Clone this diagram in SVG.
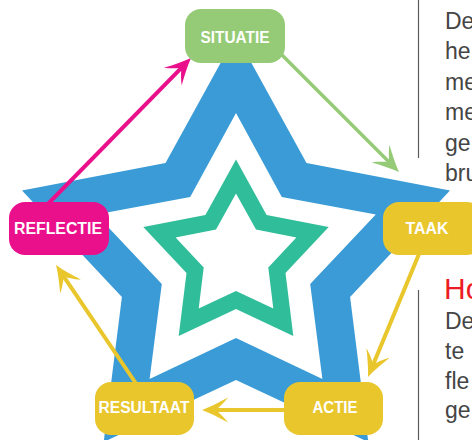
<svg xmlns="http://www.w3.org/2000/svg" width="472" height="440" viewBox="0 0 472 440">
  <style>
    .box-label { font-family: "Liberation Sans", Arial, sans-serif; font-weight: bold; font-size: 17.2px; fill: #ffffff; text-anchor: middle; }
    .body { font-family: "Liberation Sans", Arial, sans-serif; font-size: 23px; fill: #454545; }
    .heading { font-family: "Liberation Sans", Arial, sans-serif; font-size: 30px; fill: #ed1c24; }
    .rule { stroke: #5a5a5a; stroke-width: 1.2; }
    .conn { fill: none; stroke-linecap: butt; }
  </style>
  <defs>
    <!-- swept arrowheads: origin sits at the line end, tip 13px further on -->
    <marker id="ah-green" markerUnits="userSpaceOnUse" viewBox="-15 -15 30 30" markerWidth="30" markerHeight="30" refX="0" refY="0" orient="auto">
      <path d="M13,0 C5,-3 -3,-7 -13,-12.5 C-8,-6 -4,-3 -1,0 C-4,3 -8,6 -13,12.5 C-3,7 5,3 13,0 Z" fill="#95cb76"/>
    </marker>
    <marker id="ah-pink" markerUnits="userSpaceOnUse" viewBox="-15 -15 30 30" markerWidth="30" markerHeight="30" refX="0" refY="0" orient="auto">
      <path d="M13,0 C5,-3 -3,-7 -13,-12.5 C-8,-6 -4,-3 -1,0 C-4,3 -8,6 -13,12.5 C-3,7 5,3 13,0 Z" fill="#ea108c"/>
    </marker>
    <marker id="ah-yellow" markerUnits="userSpaceOnUse" viewBox="-15 -15 30 30" markerWidth="30" markerHeight="30" refX="0" refY="0" orient="auto">
      <path d="M13,0 C5,-3 -3,-7 -13,-12.5 C-8,-6 -4,-3 -1,0 C-4,3 -8,6 -13,12.5 C-3,7 5,3 13,0 Z" fill="#e8c62c"/>
    </marker>
  </defs>

  <!-- large blue star band (outer star minus inner star) -->
  <path id="star-blue" fill="#3a9bd6" fill-rule="evenodd"
        d="M236,35 L306.5,162.9 L450,190.5 L350.1,297.1 L368.3,442 L236,380 L103.7,442 L121.9,297.1 L22,190.5 L165.5,162.9 Z
           M236,113 L281.8,196.9 L375.8,214.6 L310.2,284.1 L322.4,378.9 L236,338 L149.6,378.9 L161.8,284.1 L96.2,214.6 L190.2,196.9 Z"/>

  <!-- small green star band -->
  <path id="star-green" fill="#30bd99" fill-rule="evenodd"
        d="M236,159.5 L266.6,214.9 L328.7,226.9 L285.5,273.1 L293.3,335.9 L236,309 L178.7,335.9 L186.5,273.1 L143.3,226.9 L205.4,214.9 Z
           M236,193.5 L256,229.5 L296.4,237.4 L268.3,267.5 L273.3,308.4 L236,291 L198.7,308.4 L203.7,267.5 L175.6,237.4 L216,229.5 Z"/>

  <!-- cycle connectors -->
  <g id="connectors" class="conn">
    <line x1="282" y1="55" x2="389.8" y2="162.8" stroke="#95cb76" stroke-width="3.5" marker-end="url(#ah-green)"/>
    <line x1="419" y1="254" x2="373" y2="365" stroke="#e8c62c" stroke-width="4" marker-end="url(#ah-yellow)"/>
    <line x1="286" y1="410" x2="215" y2="410" stroke="#e8c62c" stroke-width="4" marker-end="url(#ah-yellow)"/>
    <line x1="137" y1="385" x2="63.3" y2="275.8" stroke="#e8c62c" stroke-width="4" marker-end="url(#ah-yellow)"/>
    <line x1="42" y1="210" x2="181.9" y2="67.3" stroke="#ea108c" stroke-width="4" marker-end="url(#ah-pink)"/>
  </g>

  <!-- step nodes -->
  <g id="node-situatie">
    <rect x="185" y="9" width="100" height="54" rx="16" fill="#95cb76"/>
    <text class="box-label" x="235" y="42.5" textLength="69" lengthAdjust="spacingAndGlyphs">SITUATIE</text>
  </g>
  <g id="node-taak">
    <rect x="383" y="202" width="100" height="53" rx="16" fill="#e8c62c"/>
    <text class="box-label" x="427" y="234" textLength="43" lengthAdjust="spacingAndGlyphs">TAAK</text>
  </g>
  <g id="node-actie">
    <rect x="284" y="382" width="99" height="53" rx="16" fill="#e8c62c"/>
    <text class="box-label" x="335" y="413" textLength="45" lengthAdjust="spacingAndGlyphs">ACTIE</text>
  </g>
  <g id="node-resultaat">
    <rect x="95" y="382" width="99" height="53" rx="16" fill="#e8c62c"/>
    <text class="box-label" x="144" y="413" textLength="91" lengthAdjust="spacingAndGlyphs">RESULTAAT</text>
  </g>
  <g id="node-reflectie">
    <rect x="9" y="202" width="100" height="53" rx="16" fill="#ea108c"/>
    <text class="box-label" x="58" y="233.5" textLength="88" lengthAdjust="spacingAndGlyphs">REFLECTIE</text>
  </g>

  <!-- side column text, cut off at the right edge -->
  <g id="side-text">
    <line class="rule" x1="418.5" y1="0" x2="418.5" y2="158"/>
    <line class="rule" x1="418.5" y1="290" x2="418.5" y2="440"/>
    <text class="body" x="445" y="28.5">De</text>
    <text class="body" x="445" y="59">he</text>
    <text class="body" x="445" y="89.5">me</text>
    <text class="body" x="445" y="120">me</text>
    <text class="body" x="445" y="150.5">ge</text>
    <text class="body" x="445" y="181">bru</text>
    <text class="heading" x="444" y="299">Ho</text>
    <text class="body" x="445" y="328.5">De</text>
    <text class="body" x="445" y="358.5">te</text>
    <text class="body" x="445" y="388.5">fle</text>
    <text class="body" x="445" y="418">ge</text>
  </g>
</svg>
